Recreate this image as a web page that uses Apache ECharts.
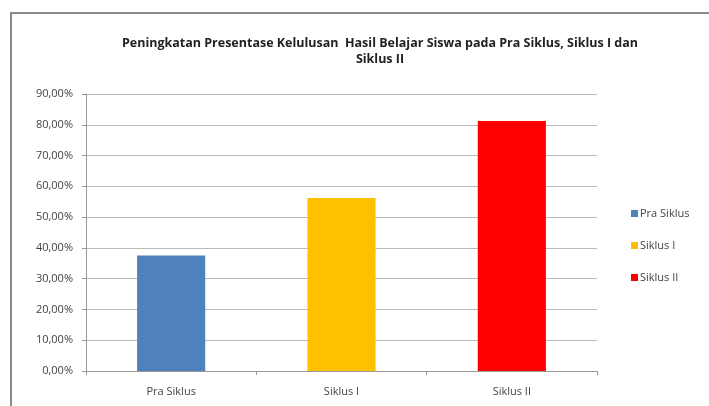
<!DOCTYPE html>
<html>
<head>
<meta charset="utf-8">
<script src="https://cdn.jsdelivr.net/npm/echarts@6/dist/echarts.min.js"></script>
<style>html,body{margin:0;padding:0;background:#fff}#c{width:709px;height:406px}</style>
</head>
<body>
<div id="c"></div>
<script>
var categories = ['Pra Siklus', 'Siklus I', 'Siklus II'];
var seriesNames = ['Pra Siklus', 'Siklus I', 'Siklus II'];
var values = [37.5, 56.25, 81.25];
var colors = ['#4F81BD', '#FFC000', '#FF0000'];
var yTicks = [0, 10, 20, 30, 40, 50, 60, 70, 80, 90];
var titleText = 'Peningkatan Presentase Kelulusan  Hasil Belajar Siswa pada Pra Siklus, Siklus I dan\nSiklus II';

var chart = echarts.init(document.getElementById('c'));
var series = seriesNames.map(function (n, i) {
  var d = categories.map(function (c, j) { return j === i ? values[i] : '-'; });
  return {
    name: n, type: 'bar', data: d, stack: 'all', barWidth: '40%',
    itemStyle: { color: colors[i] }
  };
});
chart.setOption({
  animation: false,
  title: {
    text: titleText, left: 375, top: 30, textAlign: 'center',
    textStyle: { fontFamily: 'Open Sans', fontSize: 12.5, fontWeight: 'bold', color: '#222', lineHeight: 16 }
  },
  graphic: [{
    type: 'rect', shape: { x: 11, y: 13, width: 720, height: 420 },
    style: { fill: 'none', stroke: '#8a8a8a', lineWidth: 2 }, silent: true
  }],
  legend: {
    orient: 'vertical', left: 626, top: 203, itemGap: 21,
    itemWidth: 7, itemHeight: 7, icon: 'rect',
    textStyle: { fontFamily: 'Open Sans', fontSize: 11, color: '#444', padding: [0, 0, 0, -3] },
    data: seriesNames
  },
  grid: { left: 86, right: 112, top: 94, bottom: 35 },
  xAxis: {
    type: 'category', data: categories,
    axisLine: { lineStyle: { color: '#999' } },
    axisTick: { show: true, length: 4, lineStyle: { color: '#999' } },
    axisLabel: { fontFamily: 'Open Sans', fontSize: 11, color: '#444', margin: 15 }
  },
  yAxis: {
    type: 'value', min: 0, max: 90, interval: 10,
    axisLine: { show: true, lineStyle: { color: '#999' } },
    axisTick: { show: true, length: 4, lineStyle: { color: '#999' } },
    splitLine: { lineStyle: { color: '#bbb' } },
    axisLabel: {
      fontFamily: 'Open Sans', fontSize: 11, color: '#444', margin: 13,
      formatter: function (v) { return yTicks.indexOf(v) >= 0 ? v.toFixed(2).replace('.', ',') + '%' : ''; }
    }
  },
  series: series
});
</script>
</body>
</html>
